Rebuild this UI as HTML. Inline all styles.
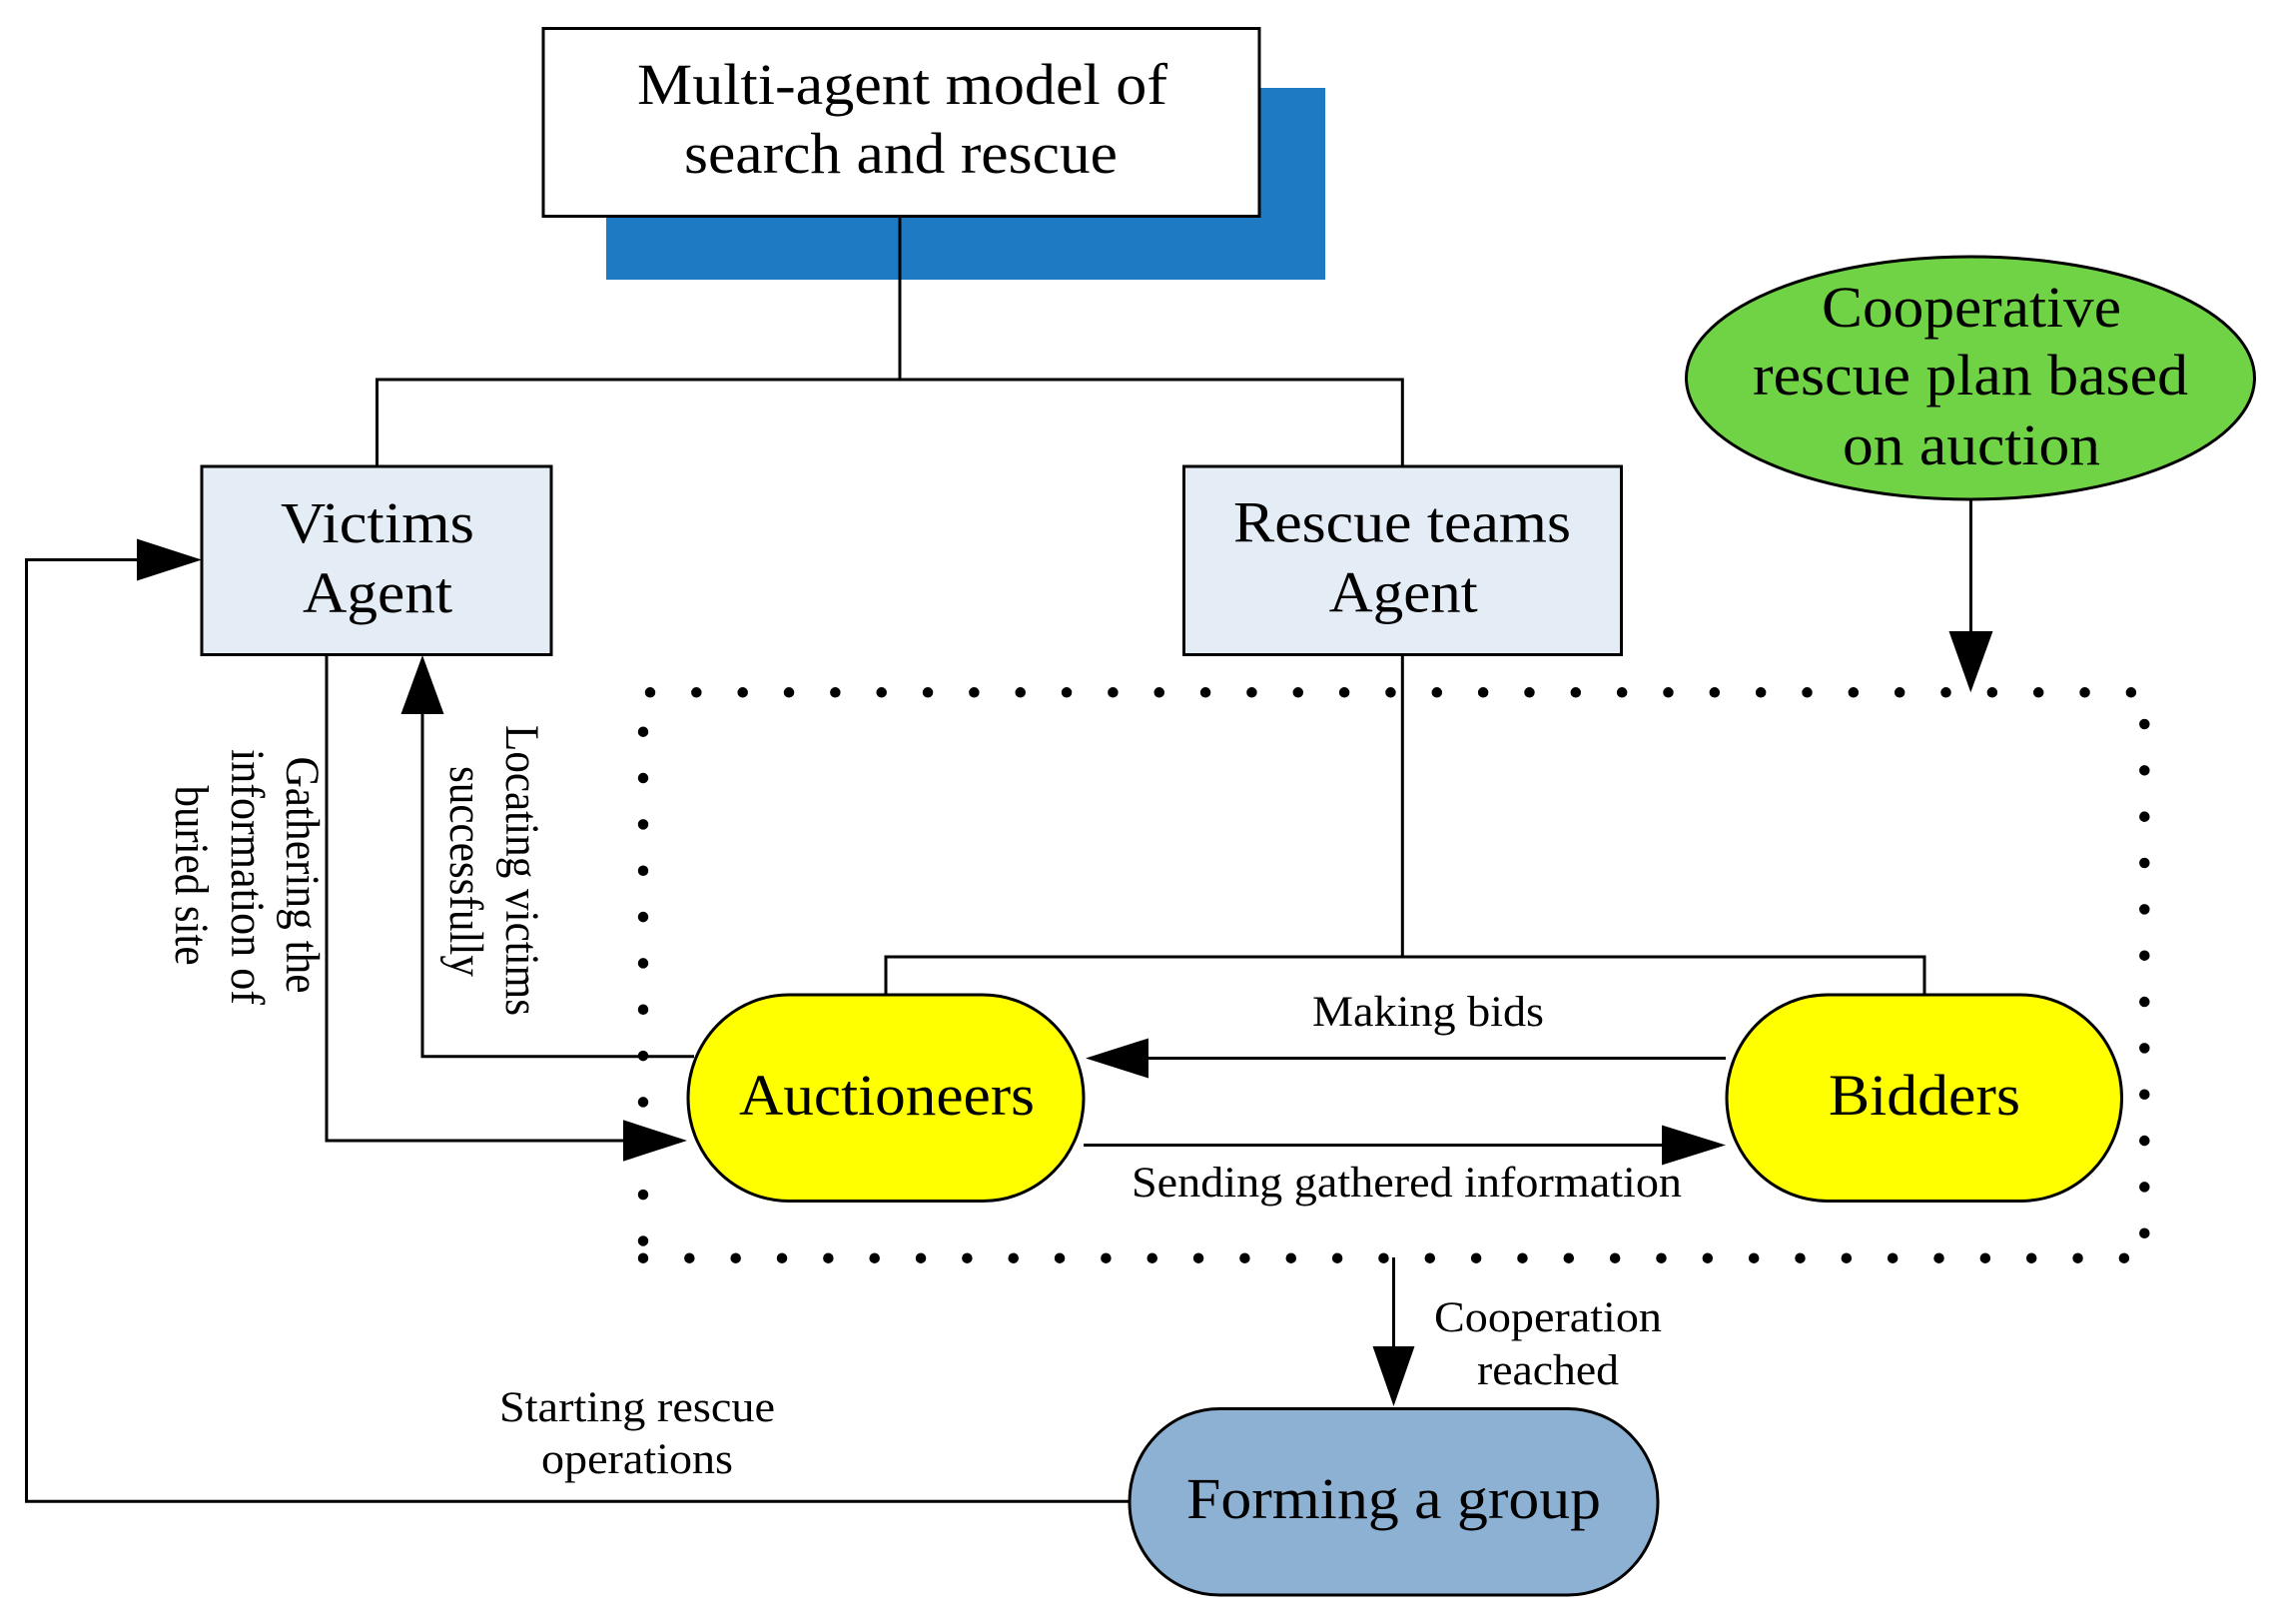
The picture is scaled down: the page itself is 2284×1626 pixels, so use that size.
<!DOCTYPE html>
<html>
<head>
<meta charset="utf-8">
<style>
html,body{margin:0;padding:0;background:#fff;width:2284px;height:1626px;overflow:hidden}
svg{display:block}
text{font-family:"Liberation Serif",serif;fill:#000}
.b{font-size:58px}
.s{font-size:43.5px}
.l{stroke:#000;stroke-width:3;fill:none}
.d{stroke:#000;stroke-width:10.5;stroke-linecap:round;stroke-dasharray:0.01 46.33;fill:none}
</style>
</head>
<body>
<svg width="2284" height="1626" viewBox="0 0 2284 1626" xmlns="http://www.w3.org/2000/svg">
<rect width="2284" height="1626" fill="#fff"/>
<rect x="607" y="88" width="720" height="192" fill="#1f7ac4"/>
<path class="l" d="M901 217V380M377.5 466V380H1404.3V466"/>
<rect x="544" y="28.5" width="717" height="188" fill="#fff" stroke="#000" stroke-width="3"/>
<rect x="202" y="467" width="350" height="188.5" fill="#e4ecf6" stroke="#000" stroke-width="3"/>
<rect x="1185.5" y="467" width="438" height="188.5" fill="#e4ecf6" stroke="#000" stroke-width="3"/>
<ellipse cx="1973" cy="378.5" rx="284.5" ry="121.5" fill="#70d346" stroke="#000" stroke-width="3"/>

<path class="d" d="M651 693.3H2135"/>
<path class="d" d="M2147.3 725V1236"/>
<path class="d" d="M644 1259.7H2128"/>
<path class="d" d="M644 732.7V1244"/>

<path class="l" d="M1404.3 655V958M887 995V958H1927V995"/>
<path class="l" d="M695 1057.7H423V700"/>
<path class="l" d="M327 655V1142H640"/>
<path class="l" d="M1131 1503.3H26.5V560.5H150"/>
<path class="l" d="M1728 1059.5H1140"/>
<path class="l" d="M1085 1146.5H1675"/>
<path class="l" d="M1973.5 500V640"/>
<path class="l" d="M1395.5 1259V1355"/>

<rect x="689" y="996" width="396" height="206.5" rx="101" ry="103" fill="#ffff00" stroke="#000" stroke-width="3"/>
<rect x="1729" y="996" width="395.5" height="206.5" rx="101" ry="103" fill="#ffff00" stroke="#000" stroke-width="3"/>
<rect x="1131" y="1410.5" width="529" height="186.5" rx="90" ry="93" fill="#8db1d3" stroke="#000" stroke-width="3"/>

<g fill="#000">
<polygon points="202,560.5 137,539.5 137,581.5"/>
<polygon points="423,656 401.5,715 444.5,715"/>
<polygon points="688,1142 624,1121.3 624,1162.7"/>
<polygon points="1087,1059.5 1150,1039.5 1150,1079.5"/>
<polygon points="1728,1146.5 1664,1126.5 1664,1166.5"/>
<polygon points="1973.3,693.3 1951.5,632 1995.5,632"/>
<polygon points="1395.5,1408 1374.5,1348 1416.5,1348"/>
</g>

<text class="b" x="638" y="104" textLength="531" lengthAdjust="spacingAndGlyphs">Multi-agent model of</text>
<text class="b" x="685" y="173" textLength="434" lengthAdjust="spacingAndGlyphs">search and rescue</text>
<text class="b" x="281" y="543" textLength="194" lengthAdjust="spacingAndGlyphs">Victims</text>
<text class="b" x="303" y="613" textLength="150" lengthAdjust="spacingAndGlyphs">Agent</text>
<text class="b" x="1235" y="542.5" textLength="338" lengthAdjust="spacingAndGlyphs">Rescue teams</text>
<text class="b" x="1330.7" y="612.7" textLength="149" lengthAdjust="spacingAndGlyphs">Agent</text>
<text class="b" x="1824" y="327" textLength="300" lengthAdjust="spacingAndGlyphs">Cooperative</text>
<text class="b" x="1755" y="395" textLength="436" lengthAdjust="spacingAndGlyphs">rescue plan based</text>
<text class="b" x="1845" y="465" textLength="258" lengthAdjust="spacingAndGlyphs">on auction</text>
<text class="b" x="740" y="1116" textLength="296" lengthAdjust="spacingAndGlyphs">Auctioneers</text>
<text class="b" x="1831" y="1116" textLength="192" lengthAdjust="spacingAndGlyphs">Bidders</text>
<text class="b" x="1188" y="1520" textLength="415" lengthAdjust="spacingAndGlyphs">Forming a group</text>

<text class="s" x="1314" y="1027" textLength="232" lengthAdjust="spacingAndGlyphs">Making bids</text>
<text class="s" x="1133" y="1198" textLength="551" lengthAdjust="spacingAndGlyphs">Sending gathered information</text>
<text class="s" x="1436" y="1333" textLength="228" lengthAdjust="spacingAndGlyphs">Cooperation</text>
<text class="s" x="1479" y="1386" textLength="142" lengthAdjust="spacingAndGlyphs">reached</text>
<text class="s" x="500" y="1423" textLength="276" lengthAdjust="spacingAndGlyphs">Starting rescue</text>
<text class="s" x="542" y="1475" textLength="192" lengthAdjust="spacingAndGlyphs">operations</text>

<text class="s" transform="translate(287 757.5) rotate(90) scale(1 1.09)" textLength="237" lengthAdjust="spacingAndGlyphs">Gathering the</text>
<text class="s" transform="translate(232 750) rotate(90) scale(1 1.09)" textLength="256" lengthAdjust="spacingAndGlyphs">information of</text>
<text class="s" transform="translate(176 786.5) rotate(90) scale(1 1.09)" textLength="180" lengthAdjust="spacingAndGlyphs">buried site</text>
<text class="s" transform="translate(507 726) rotate(90) scale(1 1.09)" textLength="291" lengthAdjust="spacingAndGlyphs">Locating victims</text>
<text class="s" transform="translate(451 767) rotate(90) scale(1 1.09)" textLength="211" lengthAdjust="spacingAndGlyphs">successfully</text>
</svg>
</body>
</html>
